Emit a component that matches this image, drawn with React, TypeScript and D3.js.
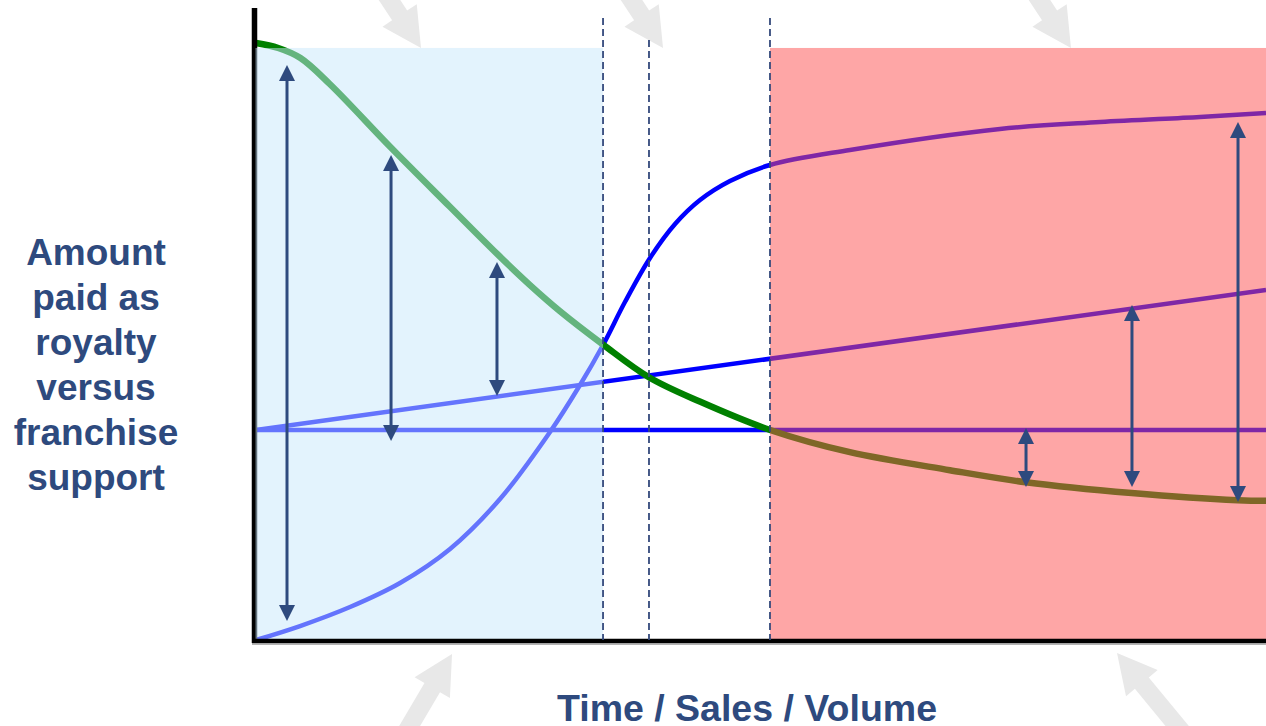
import React from "react";
import * as d3 from "d3";

// ---- data (x: time/sales/volume 0..100, y: amount 0..100) ----
const supportX = [0, 2.2, 4.4, 7.3, 13.4, 19.2, 23.9, 27.1, 30.1, 34.4, 38.9, 44, 50.9, 58.8, 68.7, 76.2, 86.7, 97.2, 100];
const supportY = [99.5, 98.67, 97, 92.67, 82, 72.2, 64.3, 59.2, 54.8, 49.2, 43.8, 39.7, 35, 31.3, 28.3, 26.3, 24.5, 23.3, 23.2];

const royaltySX = [0, 4.36, 9.31, 14.26, 19.21, 24.16, 29.11, 32.08, 34.36, 36.53, 39.01, 41.49, 43.96, 46.93, 50.89, 58.81, 73.66, 83.56, 93.47, 100];
const royaltySY = [0, 2.33, 5.5, 9.5, 15.17, 23.5, 34.67, 42.5, 49.17, 56.33, 63.67, 69.33, 73.33, 76.5, 79.17, 81.67, 85.17, 86.33, 87.17, 87.83];

const royaltyLinearX = [0, 100];
const royaltyLinearY = [35, 58.33];

const royaltyFlatX = [0, 100];
const royaltyFlatY = [35, 35];

const gapArrowX = [3.07, 13.37, 23.86, 76.24, 86.73, 97.23];
const gapArrowTop = [95.83, 80.83, 63, 35.33, 55.83, 86.33];
const gapArrowBottom = [3.17, 33.17, 40.67, 25.5, 25.5, 23];

const bandStart = [0, 50.89];
const bandEnd = [34.36, 100];
const bandFill = ["rgb(199,231,251)", "rgb(254,77,77)"];
const bandTop = 98.67;

const dividerX = [34.36, 38.91, 50.89];
const dividerTop = [103.67, 100, 103.67];

const pointerTipX = [16.34, 40.3, 80.69, 19.41, 85.25];
const pointerTipY = [98.67, 98.67, 98.67, -2.33, -2.17];
const pointerAngle = [56.7, 56.7, 56.7, -59.5, -129.5];

const yLabelLines = ["Amount", "paid as", "royalty", "versus", "franchise", "support"];
const xLabel = "Time / Sales / Volume";

const W = 1266;
const H = 726;
const NAVY = "#2e4a7e";
const FONT = "'Liberation Sans', Arial, Helvetica, sans-serif";

export default function App() {
  const x = d3.scaleLinear().domain([0, 100]).range([256, 1266]);
  const y = d3.scaleLinear().domain([0, 100]).range([640, 40]);

  const curve = d3
    .line<[number, number]>()
    .x((d) => x(d[0]))
    .y((d) => y(d[1]))
    .curve(d3.curveCatmullRom.alpha(0.5));
  const straight = d3
    .line<[number, number]>()
    .x((d) => x(d[0]))
    .y((d) => y(d[1]));

  const zip = (a: number[], b: number[]) => a.map((v, i) => [v, b[i]] as [number, number]);

  const hl = 39, hw = 41, sw = 18, L = 140;
  const blockArrow = `M0,0 L${-hl},${hw / 2} L${-hl},${sw / 2} L${-L},${sw / 2} L${-L},${-sw / 2} L${-hl},${-sw / 2} L${-hl},${-hw / 2} Z`;

  const ah = 16, aw = 16;

  return (
    <svg
      width={W}
      height={H}
      style={{ position: "absolute", left: 0, top: 0, display: "block", background: "#fff" }}
    >
      {/* decorative pointers */}
      {pointerTipX.map((tx, i) => (
        <path
          key={"p" + i}
          d={blockArrow}
          fill="#e8e8e8"
          transform={`translate(${x(tx)},${y(pointerTipY[i])}) rotate(${pointerAngle[i]})`}
        />
      ))}

      {/* lines */}
      <path d={straight(zip(royaltyFlatX, royaltyFlatY)) || ""} fill="none" stroke="#0000ff" strokeWidth={4.5} />
      <path d={straight(zip(royaltyLinearX, royaltyLinearY)) || ""} fill="none" stroke="#0000ff" strokeWidth={4.5} />
      <path d={curve(zip(royaltySX, royaltySY)) || ""} fill="none" stroke="#0000ff" strokeWidth={4.5} />
      <path d={curve(zip(supportX, supportY)) || ""} fill="none" stroke="#008000" strokeWidth={6.5} />

      {/* y axis */}
      <line x1={x(0) - 1.5} x2={x(0) - 1.5} y1={y(105.33)} y2={643} stroke="#000" strokeWidth={5.5} />

      {/* phase bands (translucent overlays) */}
      {bandStart.map((b, i) => (
        <rect
          key={"b" + i}
          x={x(b) - (i === 0 ? 0.5 : 0)}
          y={y(bandTop)}
          width={x(bandEnd[i]) - x(b) + (i === 0 ? 0.5 : 0)}
          height={y(0) - y(bandTop)}
          fill={bandFill[i]}
          fillOpacity={0.5}
        />
      ))}

      {/* x axis */}
      <line x1={x(0) - 4} x2={W} y1={y(0) + 1} y2={y(0) + 1} stroke="#000" strokeWidth={4.5} />
      <line x1={x(0) - 4} x2={W} y1={y(0) + 4} y2={y(0) + 4} stroke="#9a9a9a" strokeWidth={1.5} />

      {/* dividers */}
      {dividerX.map((dx, i) => (
        <line
          key={"d" + i}
          x1={x(dx)}
          x2={x(dx)}
          y1={y(dividerTop[i])}
          y2={y(0)}
          stroke="#34497c"
          strokeWidth={1.8}
          strokeDasharray="7,4"
        />
      ))}

      {/* gap arrows */}
      {gapArrowX.map((gx, i) => {
        const px = x(gx);
        const t = y(gapArrowTop[i]);
        const b = y(gapArrowBottom[i]);
        return (
          <g key={"a" + i}>
            <line x1={px} x2={px} y1={t + ah - 1} y2={b - ah + 1} stroke={NAVY} strokeWidth={3} />
            <path d={`M${px},${t} L${px - aw / 2},${t + ah} L${px + aw / 2},${t + ah} Z`} fill={NAVY} />
            <path d={`M${px},${b} L${px - aw / 2},${b - ah} L${px + aw / 2},${b - ah} Z`} fill={NAVY} />
          </g>
        );
      })}

      {/* labels */}
      <text
        x={96}
        y={265}
        fill={NAVY}
        fontFamily={FONT}
        fontWeight="bold"
        fontSize={37}
        textAnchor="middle"
      >
        {yLabelLines.map((l, i) => (
          <tspan key={i} x={96} dy={i === 0 ? 0 : 45}>
            {l}
          </tspan>
        ))}
      </text>
      <text
        x={747}
        y={721}
        fill={NAVY}
        fontFamily={FONT}
        fontWeight="bold"
        fontSize={37.5}
        textAnchor="middle"
      >
        {xLabel}
      </text>
    </svg>
  );
}
